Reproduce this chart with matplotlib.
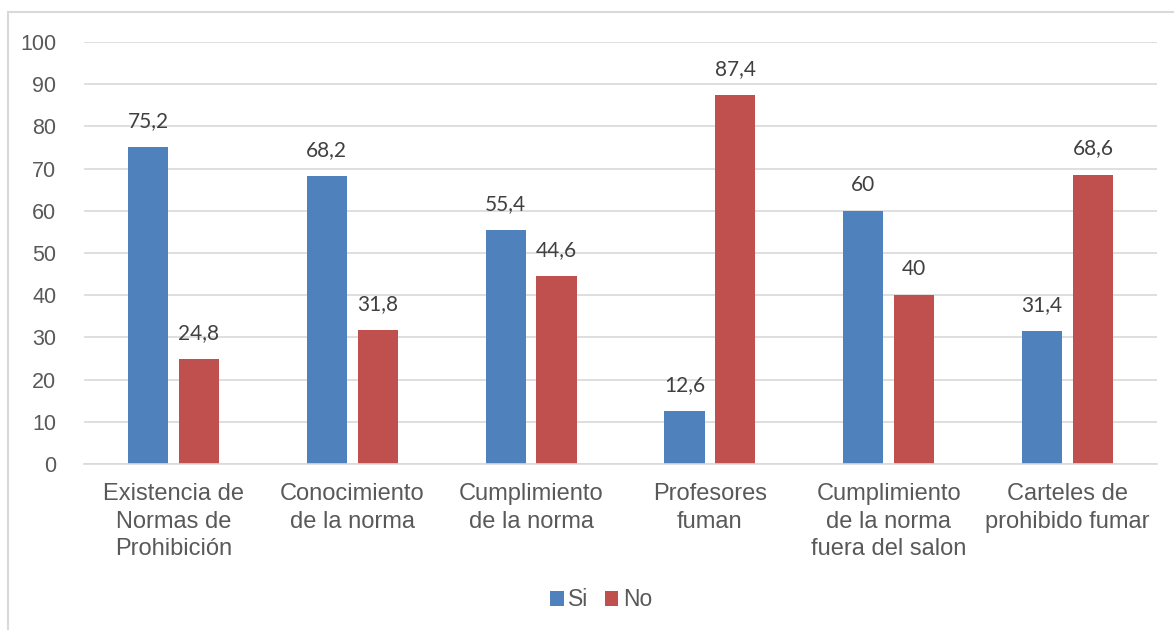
import matplotlib.pyplot as plt
import numpy as np
from matplotlib.patches import Rectangle

categorias = ['Existencia de\nNormas de\nProhibición', 'Conocimiento\nde la norma',
              'Cumplimiento\nde la norma', 'Profesores\nfuman',
              'Cumplimiento\nde la norma\nfuera del salon', 'Carteles de\nprohibido fumar']
si = [75.2, 68.2, 55.4, 12.6, 60, 31.4]
no = [24.8, 31.8, 44.6, 87.4, 40, 68.6]
etiquetas_si = ['75,2', '68,2', '55,4', '12,6', '60', '31,4']
etiquetas_no = ['24,8', '31,8', '44,6', '87,4', '40', '68,6']

azul = '#4f81bd'
rojo = '#c0504d'
gris = '#595959'

plt.rcParams['font.family'] = ['Liberation Sans', 'DejaVu Sans']

fig = plt.figure(figsize=(11.74, 6.3), dpi=100)
W, H = 1174, 630
ax = fig.add_axes([84 / W, 1 - 464 / H, (1157 - 84) / W, (464 - 42) / H])

x = np.arange(len(categorias))
ancho = 0.224
sep = 0.142
b1 = ax.bar(x - sep, si, ancho, color=azul, label='Si')
b2 = ax.bar(x + sep, no, ancho, color=rojo, label='No')

for barras, textos in ((b1, etiquetas_si), (b2, etiquetas_no)):
    for b, t in zip(barras, textos):
        ax.annotate(t, (b.get_x() + b.get_width() / 2, b.get_height()),
                    xytext=(0, 11.5), textcoords='offset points', ha='center', va='bottom',
                    fontsize=15, color='#404040', family=['Lato', 'DejaVu Sans'])

ax.set_xlim(-0.5, len(categorias) - 0.5)
ax.set_ylim(0, 100)
ax.set_yticks(range(0, 101, 10))
ax.yaxis.grid(True, color='#d9d9d9', linewidth=1.2)
ax.set_axisbelow(True)
for lado in ('top', 'right', 'left'):
    ax.spines[lado].set_visible(False)
ax.spines['bottom'].set_color('#d9d9d9')
ax.spines['bottom'].set_linewidth(1.2)
ax.tick_params(axis='both', length=0, colors=gris)
ax.tick_params(axis='y', labelsize=15.5, pad=20)
ax.set_xticks(x)
ax.set_xticklabels(categorias, fontsize=17, linespacing=1.3)
ax.tick_params(axis='x', pad=14)

fig.legend(handles=[b1, b2], loc='center', bbox_to_anchor=(601 / W, 1 - 600 / H),
           ncol=2, frameon=False, fontsize=16.5, handlelength=0.6, handleheight=0.6,
           handletextpad=0.2, columnspacing=0.7, labelcolor=gris)

# marco exterior del grafico
fig.patches.append(Rectangle((8 / W, -0.1), 1.2, 1 - 12 / H + 0.1, transform=fig.transFigure,
                             fill=False, edgecolor='#d9d9d9', linewidth=1.5))

fig.savefig('out.png', dpi=100)
